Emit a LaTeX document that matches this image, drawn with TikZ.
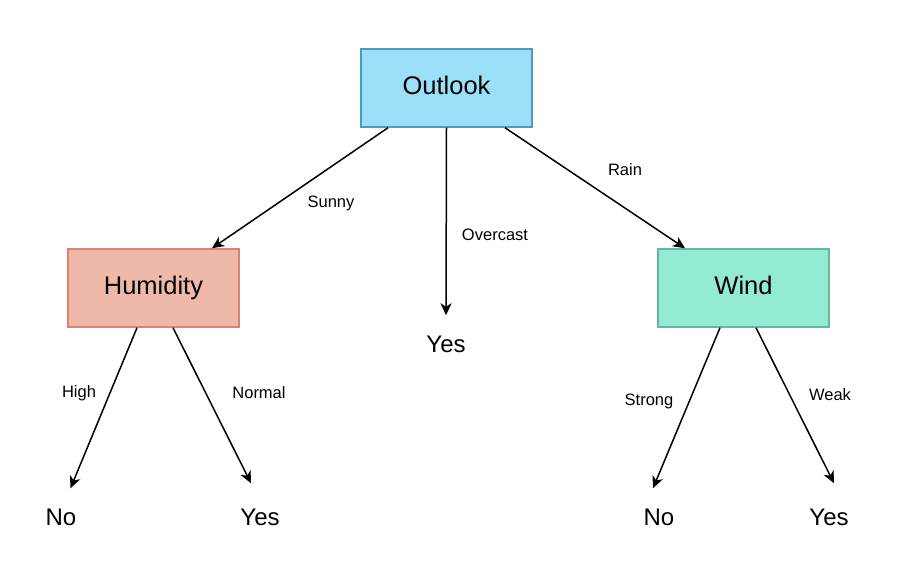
\documentclass[tikz,border=0pt]{standalone}
\usepackage{fontspec}
\setmainfont{Liberation Sans}
\usetikzlibrary{arrows.meta}

\definecolor{outlookfill}{HTML}{9BE0F8}
\definecolor{outlookline}{HTML}{4B9DB8}
\definecolor{humidfill}{HTML}{EEB9A8}
\definecolor{humidline}{HTML}{D9846B}
\definecolor{windfill}{HTML}{93EAD2}
\definecolor{windline}{HTML}{65B79E}

\begin{document}
\begin{tikzpicture}[x=1pt, y=-1pt, line width=1.5pt,
    attr/.style={draw, minimum width=171pt, minimum height=78pt, inner sep=0pt,
      text height=23.7pt, text depth=10.4pt, font=\fontsize{25.5}{30}\selectfont},
    leaf/.style={minimum height=56pt, inner sep=0pt,
      text height=22.2pt, text depth=5pt, font=\fontsize{24}{28}\selectfont},
    lbl/.style={inner sep=0pt, text height=15.3pt, text depth=3.5pt,
      font=\fontsize{16.5}{20}\selectfont},
    arr/.style={-{Stealth[length=12pt, width=11pt, inset=3.5pt]}}]
    \useasboundingbox (0, 0) rectangle (900, 572);

    % draw attribute boxes
    \node[attr, fill=outlookfill, draw=outlookline] (outlook) at (446.5, 88) {Outlook};
    \node[attr, fill=humidfill, draw=humidline] (humidity) at (153.5, 288) {Humidity};
    \node[attr, fill=windfill, draw=windline] (wind) at (743.5, 288) {Wind};

    % draw leaves
    \node[leaf] (yesmid) at (446, 344) {Yes};
    \node[leaf] (nohum) at (61, 517) {No};
    \node[leaf] (yeshum) at (260, 517) {Yes};
    \node[leaf] (nowind) at (659, 517) {No};
    \node[leaf] (yeswind) at (829, 517) {Yes};

    % draw branches
    \draw[arr] ([xshift=-58.5pt]outlook.south) -- ([xshift=58.5pt]humidity.north);
    \draw[arr] (outlook.south) -- (yesmid.north);
    \draw[arr] ([xshift=58.5pt]outlook.south) -- ([xshift=-58.5pt]wind.north);
    \draw[arr] ([xshift=-16.5pt]humidity.south) -- ([xshift=9.5pt]nohum.north);
    \draw[arr] ([xshift=19.5pt]humidity.south) -- ([xshift=-9pt, yshift=5pt]yeshum.north);
    \draw[arr] ([xshift=-23.5pt]wind.south) -- ([xshift=-6pt]nowind.north);
    \draw[arr] ([xshift=12.5pt]wind.south) -- ([xshift=5pt, yshift=5pt]yeswind.north);

    % draw branch labels
    \node[lbl] (sunny) at (331, 202) {Sunny};
    \node[lbl] (overcast) at (495, 235) {Overcast};
    \node[lbl] (rain) at (625, 170) {Rain};
    \node[lbl] (high) at (79, 392) {High};
    \node[lbl] (normal) at (259, 393) {Normal};
    \node[lbl] (strong) at (649, 400) {Strong};
    \node[lbl] (weak) at (830, 395) {Weak};

\end{tikzpicture}
\end{document}
